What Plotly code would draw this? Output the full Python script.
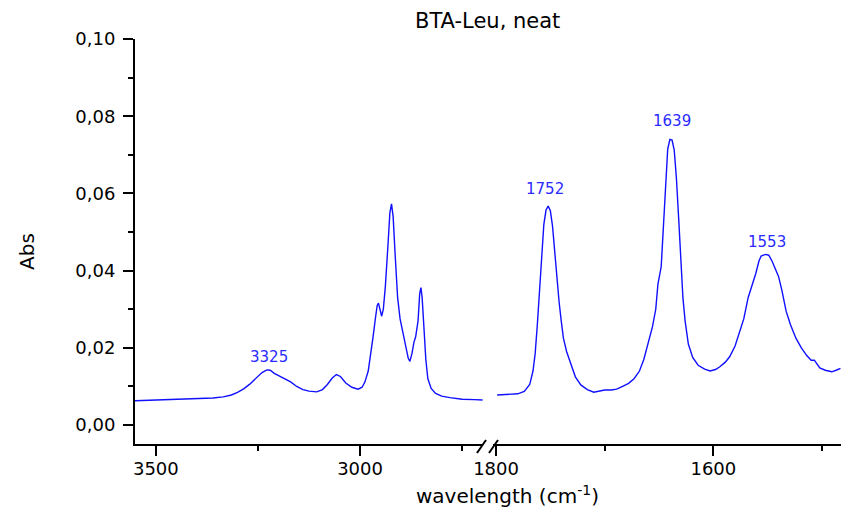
import plotly.graph_objects as go

# ---- data ----
wn_high = [3551, 3500, 3450, 3400, 3360, 3335, 3315, 3300, 3285, 3270, 3255, 3240, 3228, 3220,
           3210, 3200, 3185, 3170, 3155, 3140, 3125, 3106, 3092, 3080, 3068, 3058, 3048, 3035,
           3020, 3005, 2995, 2988, 2980, 2974, 2968, 2962, 2958, 2955, 2951, 2947, 2943, 2938,
           2932, 2927, 2923, 2919, 2914, 2908, 2902, 2895, 2888, 2882, 2878, 2873, 2868, 2864,
           2858, 2854, 2851, 2848, 2844, 2839, 2834, 2826, 2815, 2800, 2780, 2750, 2720, 2700]
abs_high = [0.0063, 0.0065, 0.0066, 0.0068, 0.0070, 0.0073, 0.0078, 0.0085, 0.0094, 0.0106,
            0.0121, 0.0136, 0.0143, 0.0142, 0.0134, 0.0128, 0.0120, 0.0112, 0.0100, 0.0092,
            0.0088, 0.0086, 0.0092, 0.0105, 0.0122, 0.0131, 0.0126, 0.0109, 0.0098, 0.0093,
            0.0098, 0.0112, 0.0140, 0.0180, 0.0230, 0.0280, 0.0310, 0.0316, 0.0300, 0.0282,
            0.0300, 0.0360, 0.0460, 0.0550, 0.0573, 0.0540, 0.0440, 0.0330, 0.0275, 0.0240,
            0.0205, 0.0173, 0.0165, 0.0185, 0.0215, 0.0228, 0.0270, 0.0340, 0.0356, 0.0330,
            0.0260, 0.0170, 0.0120, 0.0095, 0.0082, 0.0075, 0.0071, 0.0067, 0.0066, 0.0065]

wn_low = [1799, 1790, 1780, 1774, 1769, 1766, 1764, 1762, 1760, 1758, 1756, 1754, 1752, 1750,
          1748, 1746, 1744, 1742, 1740, 1738, 1735, 1731, 1727, 1722, 1716, 1710, 1704, 1700,
          1694, 1689, 1683, 1678, 1673, 1668, 1664, 1660, 1656, 1653, 1651, 1648, 1646, 1644,
          1642, 1640, 1638, 1636, 1634, 1632, 1630, 1628, 1626, 1623, 1619, 1614, 1608, 1603,
          1598, 1594, 1589, 1585, 1580, 1576, 1572, 1568, 1564, 1561, 1558, 1556, 1552, 1549,
          1546, 1543, 1540, 1537, 1533, 1529, 1524, 1519, 1514, 1510, 1507, 1505, 1502, 1497,
          1491, 1487, 1483]
abs_low = [0.0078, 0.0079, 0.0081, 0.0087, 0.0105, 0.0140, 0.0185, 0.0260, 0.0350, 0.0450,
           0.0520, 0.0557, 0.0567, 0.0555, 0.0515, 0.0450, 0.0380, 0.0320, 0.0270, 0.0225,
           0.0190, 0.0155, 0.0125, 0.0104, 0.0092, 0.0085, 0.0088, 0.0091, 0.0091, 0.0093,
           0.0101, 0.0108, 0.0120, 0.0140, 0.0170, 0.0215, 0.0255, 0.0300, 0.0365, 0.0410,
           0.0520, 0.0640, 0.0715, 0.0740, 0.0738, 0.0712, 0.0640, 0.0540, 0.0430, 0.0330,
           0.0270, 0.0210, 0.0175, 0.0155, 0.0145, 0.0140, 0.0144, 0.0151, 0.0163, 0.0177,
           0.0205, 0.0240, 0.0275, 0.0330, 0.0365, 0.0392, 0.0425, 0.0438, 0.0442, 0.0440,
           0.0425, 0.0405, 0.0385, 0.0350, 0.0295, 0.0260, 0.0225, 0.0200, 0.0180, 0.0168,
           0.0168, 0.0160, 0.0148, 0.0142, 0.0138, 0.0142, 0.0147]

peak_labels_high = ["3325"]
peak_x_high = [3222]
peak_y_high = [0.0176]
peak_labels_low = ["1752", "1639", "1553"]
peak_x_low = [1755, 1638, 1551]
peak_y_low = [0.0611, 0.0788, 0.0474]

title_text = "BTA-Leu, neat"
y_title = "Abs"
x_title = "wavelength (cm<sup>-1</sup>)"

FONT = "DejaVu Sans, Verdana, sans-serif"
LINE = "#1010ff"
LABEL = "#2a2aff"

fig = go.Figure()
fig.add_trace(go.Scatter(x=wn_high, y=abs_high, mode="lines", xaxis="x", yaxis="y",
                         line=dict(color=LINE, width=1.4), showlegend=False, hoverinfo="skip"))
fig.add_trace(go.Scatter(x=wn_low, y=abs_low, mode="lines", xaxis="x2", yaxis="y",
                         line=dict(color=LINE, width=1.4), showlegend=False, hoverinfo="skip"))

for t, x, y in zip(peak_labels_high, peak_x_high, peak_y_high):
    fig.add_annotation(x=x, y=y, xref="x", yref="y", text=t, showarrow=False,
                       xanchor="center", yanchor="middle",
                       font=dict(family=FONT, size=15, color=LABEL))
for t, x, y in zip(peak_labels_low, peak_x_low, peak_y_low):
    fig.add_annotation(x=x, y=y, xref="x2", yref="y", text=t, showarrow=False,
                       xanchor="center", yanchor="middle",
                       font=dict(family=FONT, size=15, color=LABEL))

W, H = 841, 512
L, T = 135, 39
B = H - 444
pw, ph = W - L, H - T - B

def px(x):  # page x -> paper
    return (x - L) / pw

def py(y):  # page y -> paper
    return (444 - y) / ph

# titles
fig.add_annotation(x=px(487), y=py(21), xref="paper", yref="paper", text=title_text,
                   showarrow=False, xanchor="center", yanchor="middle",
                   font=dict(family=FONT, size=21, color="black"))
fig.add_annotation(x=px(27), y=py(252), xref="paper", yref="paper", text=y_title, textangle=-90,
                   showarrow=False, xanchor="center", yanchor="middle",
                   font=dict(family=FONT, size=20, color="black"))
fig.add_annotation(x=px(507), y=py(495), xref="paper", yref="paper", text=x_title,
                   showarrow=False, xanchor="center", yanchor="middle",
                   font=dict(family=FONT, size=20, color="black"))

# axis break marks
for x0 in (477, 489):
    fig.add_shape(type="line", xref="paper", yref="paper",
                  x0=px(x0), y0=py(453), x1=px(x0 + 9), y1=py(440),
                  line=dict(color="black", width=2))

axis_common = dict(showline=True, linewidth=2, linecolor="black", ticks="outside",
                   ticklen=10, tickwidth=2, tickcolor="black", showgrid=False, zeroline=False,
                   fixedrange=True,
                   tickfont=dict(family=FONT, size=18, color="black"))

fig.update_layout(
    width=W, height=H,
    margin=dict(l=L, r=0, t=T, b=B),
    paper_bgcolor="white", plot_bgcolor="white",
    separators=",.",
    hovermode=False,
    xaxis=dict(domain=[0, px(483)], range=[3551, 2699], dtick=500, anchor="y",
               ticklabelstandoff=-3,
               minor=dict(dtick=250, ticklen=5, tickwidth=2, ticks="outside", tickcolor="black"),
               **axis_common),
    xaxis2=dict(domain=[px(493), 1], range=[1802.8, 1482.5], dtick=200, anchor="y",
                ticklabelstandoff=-3,
                minor=dict(dtick=100, ticklen=5, tickwidth=2, ticks="outside", tickcolor="black"),
                **axis_common),
    yaxis=dict(range=[-0.0049, 0.10], dtick=0.02, tickformat=".2f", anchor="x",
               ticklabelstandoff=4,
               minor=dict(dtick=0.01, ticklen=5, tickwidth=2, ticks="outside", tickcolor="black"),
               **axis_common),
)

fig.write_html("out.html", config={"displayModeBar": False},
               post_script="document.body.style.margin='0';document.body.style.overflow='hidden';")
